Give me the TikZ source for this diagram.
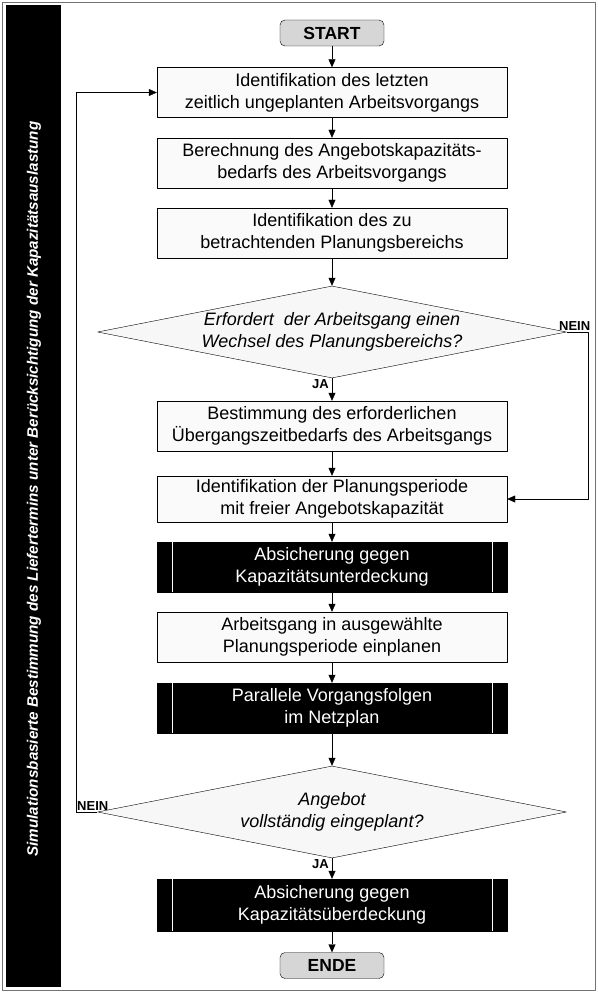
\documentclass[tikz,border=0pt]{standalone}
\usepackage{fontspec}
\setmainfont{Liberation Sans}
\usetikzlibrary{shapes.geometric,arrows.meta}

\begin{document}
\begin{tikzpicture}[x=1pt, y=-1pt, line join=round, >={Triangle[length=8pt,width=7pt]},
	font=\fontsize{18}{22}\selectfont,
	box/.style={draw, fill=black!2, minimum width=350pt, minimum height=50pt, align=center, inner sep=0pt},
	blackbox/.style={box, fill=black, text=white},
	term/.style={draw, fill=black!16, rounded corners=5pt, minimum width=104pt, minimum height=26pt, inner sep=0pt, font=\fontsize{17.5}{20}\selectfont\bfseries},
	decision/.style={diamond, draw, fill=black!3, aspect=5, inner sep=0pt, minimum width=469pt, minimum height=92pt, align=center, font=\fontsize{18}{22}\selectfont\itshape},
	answer/.style={font=\fontsize{13}{15}\selectfont\bfseries, inner sep=1pt}]
	\def\cx{332}\def\xl{76}\def\xr{588}
	\useasboundingbox (0,0) rectangle (597,992);
	% frame and side bar
	\draw[black!55] (2,2) rectangle (595,990);
	\fill[black] (6,5) rectangle (61,987);
	\node[rotate=90, text=white, font=\fontsize{15.2}{17}\selectfont\bfseries\itshape] (title) at (34,489)
		{Simulationsbasierte Bestimmung des Liefertermins unter Berücksichtigung der Kapazitätsauslastung};
	% steps
	\node[term] (start) at (\cx,33) {START};
	\node[box] (ident) at (\cx,92.5) {Identifikation des letzten\\zeitlich ungeplanten Arbeitsvorgangs};
	\node[box] (calc) at (\cx,163) {Berechnung des Angebotskapazitäts-\\bedarfs des Arbeitsvorgangs};
	\node[box] (area) at (\cx,233) {Identifikation des zu\\betrachtenden Planungsbereichs};
	\node[decision] (chg) at (\cx,332) {Erfordert\ \ der Arbeitsgang einen\\Wechsel des Planungsbereichs?};
	\node[box] (trans) at (\cx,426) {Bestimmung des erforderlichen\\Übergangszeitbedarfs des Arbeitsgangs};
	\node[box, minimum height=46pt] (per) at (\cx,499) {Identifikation der Planungsperiode\\mit freier Angebotskapazität};
	\node[blackbox] (under) at (\cx,567) {Absicherung gegen\\Kapazitätsunterdeckung};
	\node[box] (plan) at (\cx,637) {Arbeitsgang in ausgewählte\\Planungsperiode einplanen};
	\node[blackbox] (netz) at (\cx,708) {Parallele Vorgangsfolgen\\im Netzplan};
	\node[decision] (done) at (\cx,812) {Angebot\\vollständig eingeplant?};
	\node[blackbox, minimum height=52pt] (over) at (\cx,905) {Absicherung gegen\\Kapazitätsüberdeckung};
	\node[term] (ende) at (\cx,965.5) {ENDE};
	% side lines of the black boxes
	\foreach \b in {under,netz,over}{
		\draw[white] ([xshift=15pt]\b.north west)--([xshift=15pt]\b.south west);
		\draw[white] ([xshift=-15pt]\b.north east)--([xshift=-15pt]\b.south east);
	}
	% main flow
	\draw[->] (start)--(ident);
	\draw[->] (ident)--(calc);
	\draw[->] (calc)--(area);
	\draw[->] (area)--(chg);
	\draw[->] (chg)--(trans);
	\draw[->] (trans)--(per);
	\draw[->] (per)--(under);
	\draw[->] (under)--(plan);
	\draw[->] (plan)--(netz);
	\draw[->] (netz)--(done);
	\draw[->] (done)--(over);
	\draw[->] (over)--(ende);
	\node[answer, anchor=north east] (ja1) at ([xshift=-2pt]chg.south) {JA};
	\node[answer, anchor=north east] (ja2) at ([xshift=-2pt]done.south) {JA};
	% branches
	\coordinate (left) at (\xl,0);
	\coordinate (right) at (\xr,0);
	\draw[->] (chg.east)--(chg.east -| right) |- (per.east);
	\node[answer, anchor=south] (nein1) at ([xshift=8pt]chg.east) {NEIN};
	\draw[->] (done.west)--(done.west -| left) |- (ident.west);
	\node[answer, anchor=south west] (nein2) at (done.west -| left) {NEIN};
\end{tikzpicture}
\end{document}
